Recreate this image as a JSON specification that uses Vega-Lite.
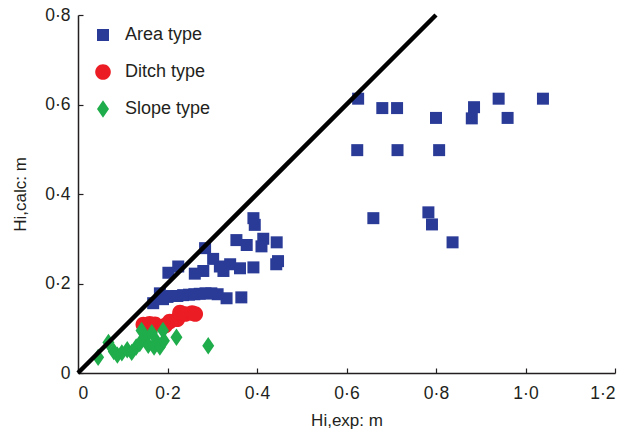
{
  "$schema": "https://vega.github.io/schema/vega-lite/v6.json",
  "width": 537,
  "height": 358,
  "autosize": {"type": "none"},
  "padding": {"left": 78, "top": 15, "right": 24, "bottom": 62},
  "background": "white",
  "config": {
    "font": "Liberation Sans",
    "view": {"stroke": null},
    "axis": {
      "domainColor": "#231f20",
      "domainWidth": 1.5,
      "tickColor": "#231f20",
      "tickWidth": 1.2,
      "tickSize": -5,
      "grid": false,
      "labelFont": "Liberation Sans",
      "labelFontSize": 17.5,
      "labelColor": "#231f20",
      "titleFont": "Liberation Sans",
      "titleFontSize": 17,
      "titleFontWeight": "normal",
      "titleColor": "#231f20"
    }
  },
  "datasets": {
    "pts": [
      {"type": "Area type", "x": 0.168, "y": 0.156},
      {"type": "Area type", "x": 0.183, "y": 0.178},
      {"type": "Area type", "x": 0.190, "y": 0.165},
      {"type": "Area type", "x": 0.200, "y": 0.170},
      {"type": "Area type", "x": 0.210, "y": 0.172},
      {"type": "Area type", "x": 0.222, "y": 0.172},
      {"type": "Area type", "x": 0.235, "y": 0.174},
      {"type": "Area type", "x": 0.248, "y": 0.175},
      {"type": "Area type", "x": 0.260, "y": 0.176},
      {"type": "Area type", "x": 0.272, "y": 0.177},
      {"type": "Area type", "x": 0.285, "y": 0.178},
      {"type": "Area type", "x": 0.298, "y": 0.178},
      {"type": "Area type", "x": 0.312, "y": 0.176},
      {"type": "Area type", "x": 0.332, "y": 0.167},
      {"type": "Area type", "x": 0.365, "y": 0.169},
      {"type": "Area type", "x": 0.202, "y": 0.224},
      {"type": "Area type", "x": 0.224, "y": 0.238},
      {"type": "Area type", "x": 0.261, "y": 0.222},
      {"type": "Area type", "x": 0.280, "y": 0.228},
      {"type": "Area type", "x": 0.284, "y": 0.279},
      {"type": "Area type", "x": 0.302, "y": 0.255},
      {"type": "Area type", "x": 0.317, "y": 0.238},
      {"type": "Area type", "x": 0.325, "y": 0.228},
      {"type": "Area type", "x": 0.340, "y": 0.243},
      {"type": "Area type", "x": 0.362, "y": 0.234},
      {"type": "Area type", "x": 0.392, "y": 0.236},
      {"type": "Area type", "x": 0.392, "y": 0.346},
      {"type": "Area type", "x": 0.395, "y": 0.331},
      {"type": "Area type", "x": 0.354, "y": 0.297},
      {"type": "Area type", "x": 0.377, "y": 0.286},
      {"type": "Area type", "x": 0.414, "y": 0.300},
      {"type": "Area type", "x": 0.410, "y": 0.283},
      {"type": "Area type", "x": 0.444, "y": 0.292},
      {"type": "Area type", "x": 0.447, "y": 0.250},
      {"type": "Area type", "x": 0.443, "y": 0.243},
      {"type": "Area type", "x": 0.626, "y": 0.613},
      {"type": "Area type", "x": 0.680, "y": 0.592},
      {"type": "Area type", "x": 0.713, "y": 0.592},
      {"type": "Area type", "x": 0.800, "y": 0.570},
      {"type": "Area type", "x": 0.885, "y": 0.594},
      {"type": "Area type", "x": 0.880, "y": 0.569},
      {"type": "Area type", "x": 0.940, "y": 0.613},
      {"type": "Area type", "x": 0.960, "y": 0.570},
      {"type": "Area type", "x": 1.039, "y": 0.613},
      {"type": "Area type", "x": 0.624, "y": 0.498},
      {"type": "Area type", "x": 0.714, "y": 0.498},
      {"type": "Area type", "x": 0.807, "y": 0.498},
      {"type": "Area type", "x": 0.660, "y": 0.346},
      {"type": "Area type", "x": 0.783, "y": 0.359},
      {"type": "Area type", "x": 0.791, "y": 0.332},
      {"type": "Area type", "x": 0.837, "y": 0.292},
      {"type": "Ditch type", "x": 0.146, "y": 0.108},
      {"type": "Ditch type", "x": 0.160, "y": 0.110},
      {"type": "Ditch type", "x": 0.172, "y": 0.109},
      {"type": "Ditch type", "x": 0.195, "y": 0.106},
      {"type": "Ditch type", "x": 0.205, "y": 0.115},
      {"type": "Ditch type", "x": 0.222, "y": 0.120},
      {"type": "Ditch type", "x": 0.228, "y": 0.135},
      {"type": "Ditch type", "x": 0.240, "y": 0.132},
      {"type": "Ditch type", "x": 0.255, "y": 0.134},
      {"type": "Ditch type", "x": 0.262, "y": 0.132},
      {"type": "Slope type", "x": 0.045, "y": 0.035},
      {"type": "Slope type", "x": 0.068, "y": 0.068},
      {"type": "Slope type", "x": 0.080, "y": 0.048},
      {"type": "Slope type", "x": 0.088, "y": 0.040},
      {"type": "Slope type", "x": 0.098, "y": 0.045},
      {"type": "Slope type", "x": 0.110, "y": 0.052},
      {"type": "Slope type", "x": 0.120, "y": 0.046},
      {"type": "Slope type", "x": 0.130, "y": 0.058},
      {"type": "Slope type", "x": 0.138, "y": 0.066},
      {"type": "Slope type", "x": 0.142, "y": 0.095},
      {"type": "Slope type", "x": 0.150, "y": 0.080},
      {"type": "Slope type", "x": 0.157, "y": 0.062},
      {"type": "Slope type", "x": 0.165, "y": 0.090},
      {"type": "Slope type", "x": 0.170, "y": 0.058},
      {"type": "Slope type", "x": 0.176, "y": 0.070},
      {"type": "Slope type", "x": 0.183, "y": 0.058},
      {"type": "Slope type", "x": 0.190, "y": 0.095},
      {"type": "Slope type", "x": 0.192, "y": 0.072},
      {"type": "Slope type", "x": 0.220, "y": 0.080},
      {"type": "Slope type", "x": 0.291, "y": 0.061}
    ],
    "line": [
      {"x": 0, "y": 0},
      {"x": 0.8, "y": 0.8}
    ]
  },
  "layer": [
    {
      "data": {"name": "pts"},
      "mark": {"type": "point", "filled": true, "opacity": 1, "strokeWidth": 0, "size": 144},
      "encoding": {
        "x": {
          "field": "x", "type": "quantitative",
          "scale": {"domain": [0, 1.2], "nice": false},
          "axis": {
            "values": [0, 0.2, 0.4, 0.6, 0.8, 1.0, 1.2],
            "labelExpr": "datum.value == 0 ? '0' : replace(format(datum.value, '.1f'), '.', '·')",
            "labelPadding": 16,
            "title": "Hi,exp: m",
            "titlePadding": 11
          }
        },
        "y": {
          "field": "y", "type": "quantitative",
          "scale": {"domain": [0, 0.8], "nice": false},
          "axis": {
            "values": [0, 0.2, 0.4, 0.6, 0.8],
            "labelExpr": "datum.value == 0 ? '0' : replace(format(datum.value, '.1f'), '.', '·')",
            "labelPadding": 13,
            "title": "Hi,calc: m",
            "titlePadding": 15
          }
        },
        "color": {
          "field": "type", "type": "nominal",
          "scale": {"domain": ["Area type", "Ditch type", "Slope type"], "range": ["#2a3b97", "#ec1c24", "#1fad4b"]},
          "legend": {
            "orient": "none", "legendX": 16, "legendY": 11, "title": null,
            "labelFontSize": 18, "labelFont": "Liberation Sans", "labelColor": "#231f20",
            "rowPadding": 19, "labelOffset": 13, "symbolStrokeWidth": 0, "symbolSize": 144
          }
        },
        "shape": {
          "field": "type", "type": "nominal",
          "scale": {"domain": ["Area type", "Ditch type", "Slope type"], "range": ["square", "M-1.3,0A1.3,1.3,0,1,0,1.3,0A1.3,1.3,0,1,0,-1.3,0Z", "M0,-1.45L1,0L0,1.45L-1,0Z"]}
        }
      }
    },
    {
      "data": {"name": "line"},
      "mark": {"type": "line", "color": "black", "strokeWidth": 4.5},
      "encoding": {
        "x": {"field": "x", "type": "quantitative"},
        "y": {"field": "y", "type": "quantitative"}
      }
    }
  ]
}
